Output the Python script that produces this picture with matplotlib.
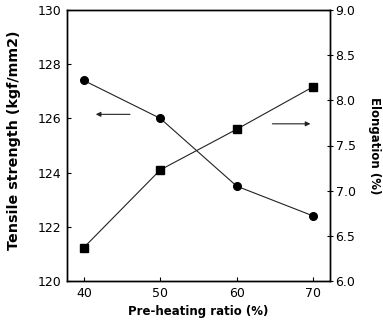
import matplotlib
matplotlib.use("Agg")
import matplotlib.pyplot as plt

# data
ratio = [40, 50, 60, 70]
tensile = [127.4, 126.0, 123.5, 122.4]
elongation = [6.37, 7.23, 7.68, 8.15]

x_ticks = [40, 50, 60, 70]
x_labels = ["40", "50", "60", "70"]
left_ticks = [120, 122, 124, 126, 128, 130]
right_ticks = [6.0, 6.5, 7.0, 7.5, 8.0, 8.5, 9.0]

plt.rcParams["font.family"] = ["DejaVu Sans"]

fig = plt.figure(figsize=(3.83, 3.26), dpi=100)
ax = fig.add_axes([67 / 383, 1 - 281 / 326, 263 / 383, 271 / 326])
ax2 = ax.twinx()

ax.plot(ratio, tensile, color="#222222", lw=0.8, marker="o", ms=5.5,
        mfc="black", mec="black")
ax2.plot(ratio, elongation, color="#222222", lw=0.8, marker="s", ms=5.5,
         mfc="black", mec="black")

ax.set_xlim(37.8, 72.2)
ax.set_ylim(120, 130)
ax2.set_ylim(6.0, 9.0)

ax.set_xticks(x_ticks)
ax.set_xticklabels(x_labels)
ax.set_yticks(left_ticks)
ax2.set_yticks(right_ticks)

ax.tick_params(axis="both", direction="in", length=3, width=0.8,
               labelsize=9, pad=4)
ax.tick_params(axis="y", pad=4)
ax2.tick_params(axis="y", direction="inout", length=4, width=0.8,
                labelsize=9, pad=2)

for a in (ax, ax2):
    for s in a.spines.values():
        s.set_linewidth(1.0)

ax.set_xlabel("Pre-heating ratio (%)", fontsize=8.5, fontweight="bold",
              labelpad=4)
ax.set_ylabel("Tensile strength (kgf/mm2)", fontsize=10.3,
              fontweight="bold")
ax.yaxis.set_label_coords(-0.175, 0.52)
ax2.set_ylabel("Elongation (%)", fontsize=8.5, fontweight="bold",
               rotation=270, labelpad=18)

# arrows pointing to the matching axis
ax.annotate("", xy=(41.2, 126.15), xytext=(46.4, 126.15),
            arrowprops=dict(arrowstyle="-|>", color="#222222", lw=0.8,
                            mutation_scale=7))
ax.annotate("", xy=(70.0, 125.8), xytext=(64.3, 125.8),
            arrowprops=dict(arrowstyle="-|>", color="#222222", lw=0.8,
                            mutation_scale=7))

fig.savefig("out.png", dpi=100, facecolor="white")
